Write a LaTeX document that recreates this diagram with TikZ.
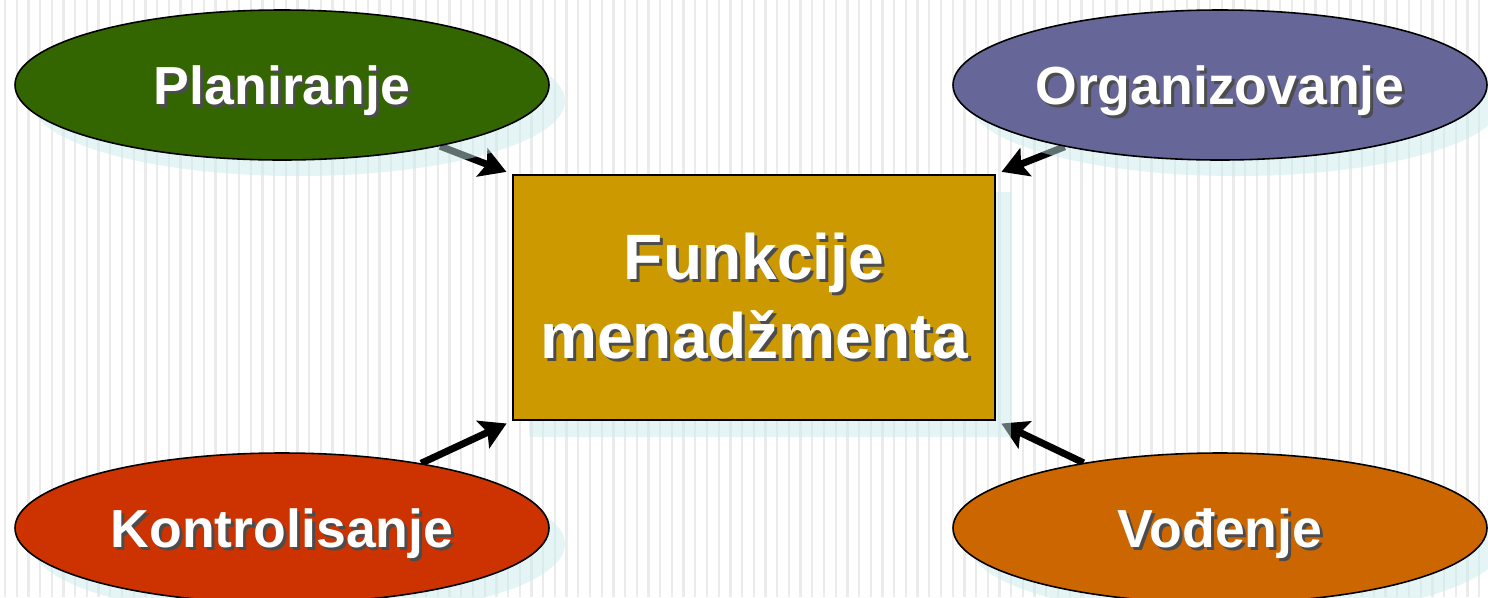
\documentclass[tikz,border=0pt]{standalone}
\usepackage{fontspec}
\setmainfont{Liberation Sans}
\usetikzlibrary{shapes.geometric,shadows,arrows.meta}

\definecolor{plgreen}{HTML}{336600}
\definecolor{orgblue}{HTML}{666699}
\definecolor{konred}{HTML}{CC3300}
\definecolor{vodorange}{HTML}{CC6600}
\definecolor{fngold}{HTML}{CC9900}
\definecolor{shcyan}{rgb}{0.79,0.92,0.92}

\pgfdeclarelayer{bg}
\pgfsetlayers{bg,main}

\newcommand{\shtxt}[1]{\makebox[0pt][l]{\kern1.7pt\raisebox{-1.7pt}{\color{black!70}#1}}#1}

\tikzset{
  func/.style={ellipse, draw=black, line width=0.9pt, minimum width=10.68cm,
    minimum height=3cm, inner sep=0pt, text=white, text depth=0pt,
    font=\fontsize{30.5}{36}\selectfont\bfseries,
    drop shadow={shadow xshift=0.32cm, shadow yshift=-0.32cm, fill=shcyan, opacity=0.48}},
  fnbox/.style={rectangle, draw=black, line width=1.1pt, fill=fngold,
    minimum width=9.64cm, minimum height=4.9cm, inner sep=0pt, text=white,
    align=center, font=\fontsize{36.5}{45}\selectfont\bfseries,
    drop shadow={shadow xshift=0.32cm, shadow yshift=-0.34cm, fill=shcyan, opacity=0.48}},
  link/.style={line width=0.14cm, -{Stealth[length=0.52cm, width=0.6cm, inset=0.1cm]},
    shorten >=0.12cm}
}

\begin{document}
\begin{tikzpicture}
\useasboundingbox (0,0) rectangle (29.76,-11.94);
\begin{pgfonlayer}{bg}
\fill[white] (0,0) rectangle (29.76,-11.94);
\foreach \i in {0,...,127}
  \draw[black!8, line width=0.045cm] (0.1+0.234*\i,0) -- (0.1+0.234*\i,-11.94);
\end{pgfonlayer}

\node [func, fill=plgreen] (pl) at (5.64,-1.7) {\shtxt{Planiranje}};
\node [func, fill=orgblue] (org) at (24.4,-1.7) {\shtxt{Organizovanje}};
\node [func, fill=konred] (kon) at (5.64,-10.56) {\shtxt{Kontrolisanje}};
\node [func, fill=vodorange] (vod) at (24.4,-10.56) {\shtxt{Vođenje}};
\node [fnbox] (fn) at (15.08,-5.95) {\shtxt{Funkcije}\\\shtxt{menadžmenta}};

\begin{pgfonlayer}{bg}
\draw [link] (pl) -- (fn.north west);
\draw [link] (org) -- (fn.north east);
\draw [link] (kon) -- (fn.south west);
\draw [link] (vod) -- (fn.south east);
\end{pgfonlayer}
\end{tikzpicture}
\end{document}
